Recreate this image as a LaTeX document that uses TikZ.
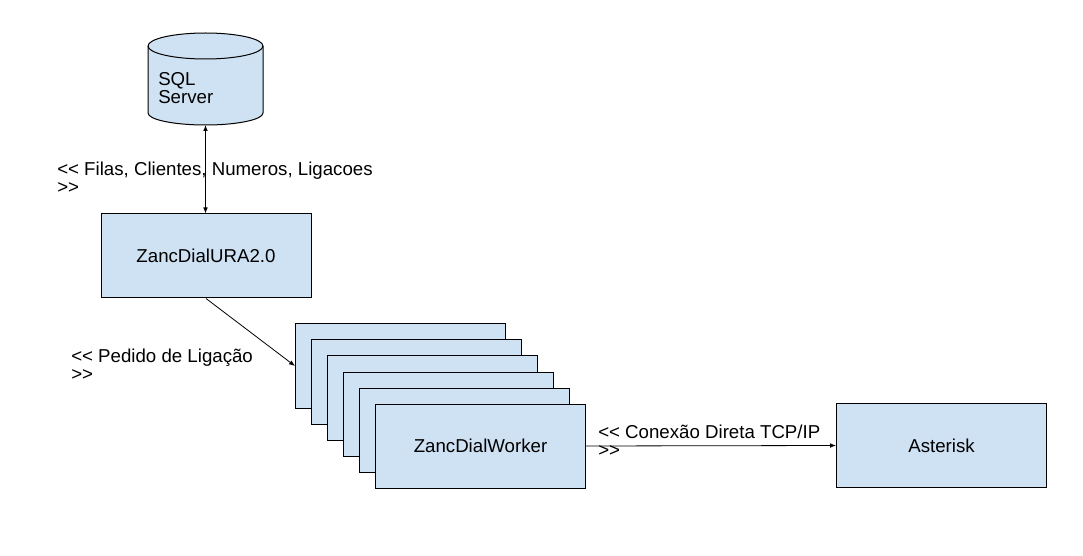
\documentclass[tikz,border=0pt]{standalone}
\usepackage{fontspec}
\setmainfont{Liberation Sans}
\usetikzlibrary{arrows.meta}
\definecolor{boxblue}{HTML}{CFE2F3}
\tikzset{
  box/.style={draw, fill=boxblue, line width=0.75pt, minimum width=157.5pt,
    minimum height=63pt, inner sep=0pt, font=\fontsize{14}{13.5}\selectfont},
  lbl/.style={anchor=north west, inner sep=0pt, align=left,
    font=\fontsize{14}{13.5}\selectfont},
  conn/.style={line width=0.6pt, -{Latex[length=4.5pt,width=3.5pt]}}
}
\begin{document}
\begin{tikzpicture}[x=0.75pt,y=-0.75pt]
    % border
    \useasboundingbox (0,0) rectangle (1083,556);
    % database
    \draw[fill=boxblue, line width=0.75pt] (148,46) -- (148,113)
        arc[start angle=180, end angle=360, x radius=43.125pt, y radius=9pt]
        -- (263,46)
        arc[start angle=0, end angle=180, x radius=43.125pt, y radius=9.75pt] -- cycle;
    \draw[line width=0.75pt] (148,46)
        arc[start angle=180, end angle=360, x radius=43.125pt, y radius=9.75pt];
    \coordinate (dbbot) at (205.5,125);
    \node[lbl] (dbtext) at (158,72) {SQL\\Server};
    % elements
    \node[box] (ura) at (206,256) {ZancDialURA2.0};
    \foreach \i in {1,...,5}
        \node[box] (w\i) at ({400.5+16*(\i-1)},{366+16*(\i-1)}) {};
    \node[box] (w6) at (480.5,446) {ZancDialWorker};
    \node[box] (ast) at (941.5,445.5) {Asterisk};
    % connectors
    \draw[conn, {Latex[length=4.5pt,width=3.5pt]}-{Latex[length=4.5pt,width=3.5pt]}] (dbbot) -- (dbbot |- ura.north);
    \draw[conn] (ura.south) -- (w1.west);
    \draw[conn] (w6.east) -- (ast.west);
    % annotations
    \node[lbl] (lfilas) at (57,162) {<{}< Filas, Clientes, Numeros, Ligacoes\\>{}>};
    \node[lbl] (lpedido) at (71,349) {<{}< Pedido de Ligação\\>{}>};
    \node[lbl] (lconexao) at (598,424.5) {<{}< Conexão Direta TCP/IP\\>{}>};
\end{tikzpicture}
\end{document}
